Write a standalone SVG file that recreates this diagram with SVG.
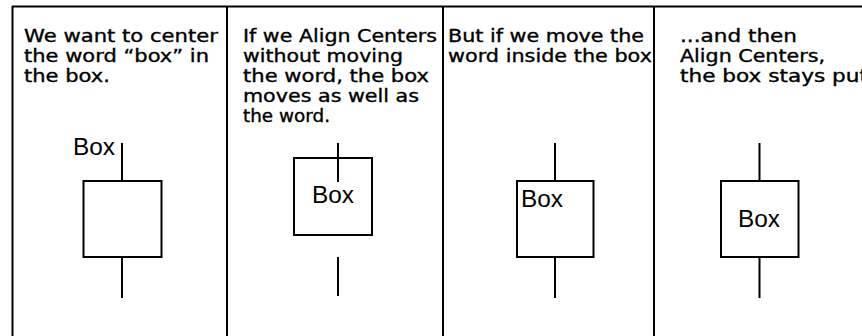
<svg xmlns="http://www.w3.org/2000/svg" width="862" height="336" viewBox="0 0 862 336">
<style>
.frame{stroke:#000;stroke-width:2;fill:none}
.box{stroke:#000;stroke-width:2;fill:#fff}
.stem{stroke:#000;stroke-width:2;fill:none}
.cap{font-family:"DejaVu Sans",sans-serif;font-size:17px;fill:#000;stroke:#000;stroke-width:0.35}
.word{font-family:"Liberation Sans",Arial,sans-serif;font-size:23px;fill:#000}
</style>
<rect width="862" height="336" fill="#fff"/>
<g id="frame" class="frame">
<path d="M12 6.5H862M12.5 6V336M227 6V336M443 6V336M654 6V336"/>
</g>
<g id="panel1">
<text class="cap" x="24" y="42" textLength="194" lengthAdjust="spacingAndGlyphs">We want to center</text>
<text class="cap" x="24" y="62" textLength="185" lengthAdjust="spacingAndGlyphs">the word “box” in</text>
<text class="cap" x="24" y="82" textLength="86" lengthAdjust="spacingAndGlyphs">the box.</text>
<g id="box1"><rect class="box" x="83.5" y="181" width="78" height="76"/></g>
<text class="word" x="73" y="155" textLength="42" lengthAdjust="spacingAndGlyphs">Box</text>
</g>
<g id="panel2">
<text class="cap" x="243" y="42" textLength="194" lengthAdjust="spacingAndGlyphs">If we Align Centers</text>
<text class="cap" x="243" y="62" textLength="160" lengthAdjust="spacingAndGlyphs">without moving</text>
<text class="cap" x="243" y="82" textLength="186" lengthAdjust="spacingAndGlyphs">the word, the box</text>
<text class="cap" x="243" y="102" textLength="176" lengthAdjust="spacingAndGlyphs">moves as well as</text>
<text class="cap" x="243" y="122" textLength="87" lengthAdjust="spacingAndGlyphs">the word.</text>
<g id="box2"><rect class="box" x="294" y="158" width="78" height="77"/></g>
<text class="word" x="312" y="203" textLength="42" lengthAdjust="spacingAndGlyphs">Box</text>
</g>
<g id="panel3">
<text class="cap" x="448" y="42" textLength="196" lengthAdjust="spacingAndGlyphs">But if we move the</text>
<text class="cap" x="448" y="62" textLength="204" lengthAdjust="spacingAndGlyphs">word inside the box</text>
<g id="box3"><rect class="box" x="517" y="181" width="76.5" height="76"/></g>
<text class="word" x="521" y="207" textLength="42" lengthAdjust="spacingAndGlyphs">Box</text>
</g>
<g id="panel4">
<text class="cap" x="680" y="42" textLength="117" lengthAdjust="spacingAndGlyphs">...and then</text>
<text class="cap" x="680" y="62" textLength="145" lengthAdjust="spacingAndGlyphs">Align Centers,</text>
<text class="cap" x="680" y="82" textLength="188" lengthAdjust="spacingAndGlyphs">the box stays put</text>
<g id="box4"><rect class="box" x="721" y="181" width="77.5" height="76"/></g>
<text class="word" x="738" y="227" textLength="42" lengthAdjust="spacingAndGlyphs">Box</text>
</g>
<g id="connectors" class="stem">
<path d="M122 143V181M122 257V298"/>
<path d="M338 143V182M338 257V296"/>
<path d="M555 143V181M555 257V298"/>
<path d="M759.5 143V181M759.5 257V298"/>
</g>
</svg>
